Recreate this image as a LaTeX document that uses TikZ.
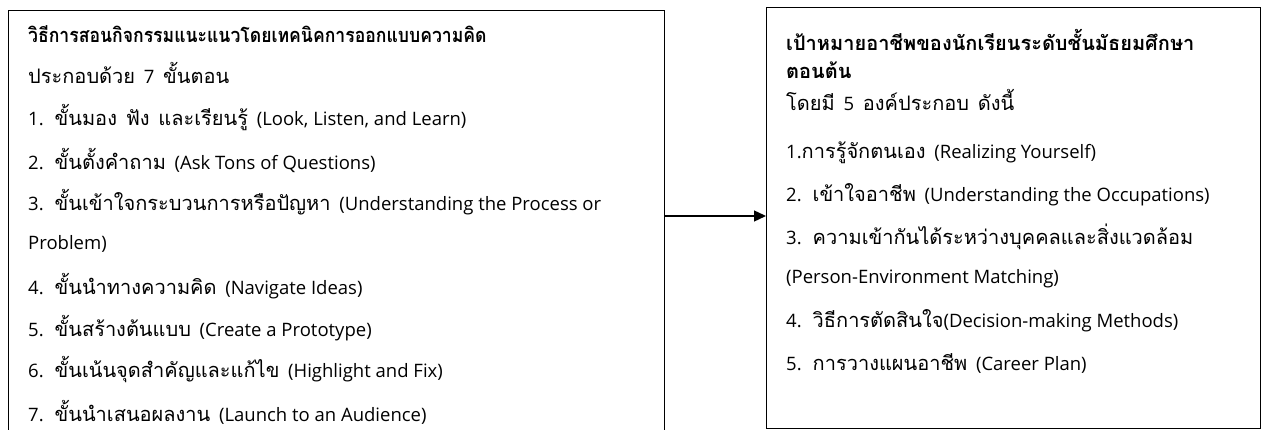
\documentclass[tikz,border=0pt]{standalone}
\usepackage{fontspec}
\setmainfont[Script=Thai, WordSpace=1.3]{Loma}
\newfontfamily\enfont{Open Sans}
\newcommand\E[1]{{\enfont\fontsize{18.5}{22}\selectfont #1}}
\usetikzlibrary{arrows.meta}
\tikzset{
  box/.style={draw=black, line width=1.3pt, anchor=north west, inner sep=0pt},
  txt/.style={anchor=west, inner sep=0pt, font=\fontsize{20}{23}\selectfont},
  ttl/.style={txt, font=\fontsize{20}{23}\selectfont\bfseries},
  link/.style={line width=1.3pt, -{Triangle[length=12pt,width=11pt]}}
}
\begin{document}
\begin{tikzpicture}[x=1pt,y=-1pt]
\useasboundingbox (0,0) rectangle (1262,430);
\clip (0,0) rectangle (1262,430);
\fill[white] (0,0) rectangle (1262,430);
\node[box, minimum width=656pt, minimum height=460pt] (L) at (8,10) {};
\node[box, minimum width=494pt, minimum height=421pt] (R) at (766,7) {};
\coordinate (A) at (700,216);
\draw[link] (L.east |- A) -- (R.west |- A);
% left texts
\node[ttl] (l0) at (28,34) {\scalebox{0.88}[1]{วิธีการสอนกิจกรรมแนะแนวโดยเทคนิคการออกแบบความคิด}};
\node[txt] (l1) at (28,73) {ประกอบด้วย \E{7} ขั้นตอน};
\node[txt] (l2) at (28,118) {\E{1.} ขั้นมอง ฟัง และเรียนรู้ \E{(Look, Listen, and Learn)}};
\node[txt] (l3) at (28,160) {\E{2.} ขั้นตั้งคำถาม \E{(Ask Tons of Questions)}};
\node[txt] (l4) at (28,202) {\E{3.} ขั้นเข้าใจกระบวนการหรือปัญหา \E{(Understanding the Process or}};
\node[txt] (l5) at (28,244) {\E{Problem)}};
\node[txt] (l6) at (28,286) {\E{4.} ขั้นนำทางความคิด \E{(Navigate Ideas)}};
\node[txt] (l7) at (28,328) {\E{5.} ขั้นสร้างต้นแบบ \E{(Create a Prototype)}};
\node[txt] (l8) at (28,370) {\E{6.} ขั้นเน้นจุดสำคัญและแก้ไข \E{(Highlight and Fix)}};
\node[txt] (l9) at (28,412) {\E{7.} ขั้นนำเสนอผลงาน \E{(Launch to an Audience)}};
% right texts
\node[ttl] (r0) at (786,40) {เป้าหมายอาชีพของนักเรียนระดับชั้นมัธยมศึกษา};
\node[ttl] (r1) at (786,70) {ตอนต้น};
\node[txt] (r2) at (786,100) {โดยมี \E{5} องค์ประกอบ ดังนี้};
\node[txt] (r3) at (786,153) {\E{1.}การรู้จักตนเอง \E{(Realizing Yourself)}};
\node[txt] (r4) at (786,195) {\E{2.} เข้าใจอาชีพ \E{(Understanding the Occupations)}};
\node[txt] (r5) at (786,237) {\E{3.} ความเข้ากันได้ระหว่างบุคคลและสิ่งแวดล้อม};
\node[txt] (r6) at (786,279) {\E{(Person-Environment Matching)}};
\node[txt] (r7) at (786,321) {\E{4.} วิธีการตัดสินใจ\E{(Decision-making Methods)}};
\node[txt] (r8) at (786,363) {\E{5.} การวางแผนอาชีพ \E{(Career Plan)}};
\end{tikzpicture}
\end{document}
